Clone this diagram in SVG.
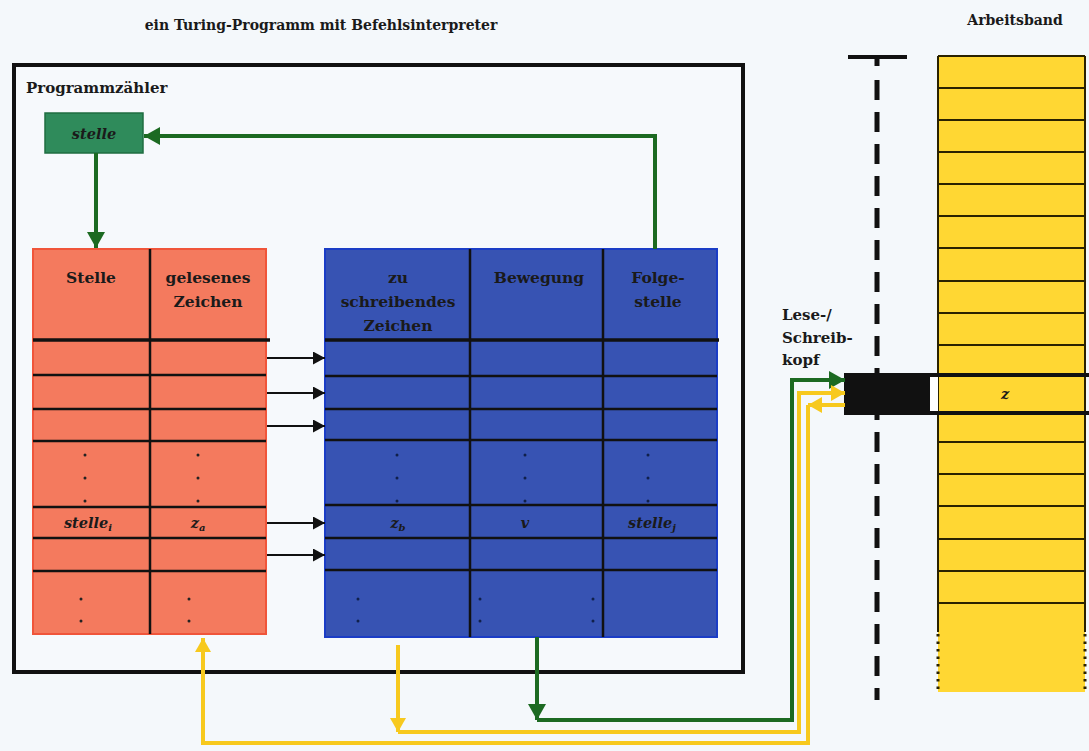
<svg xmlns="http://www.w3.org/2000/svg" width="1089" height="751" viewBox="0 0 1089 751">
  <defs>
    <style>
      .lbl { font-family: "DejaVu Serif", "Liberation Serif", serif; font-weight: bold; fill: #1a1a1a; }
      .hdr { font-size: 15.5px; text-anchor: middle; }
      .it { font-style: italic; text-anchor: middle; font-size: 14.5px; }
      .grid { stroke: #111; stroke-width: 2.5; fill: none; }
      .thick { stroke: #111; stroke-width: 3.5; fill: none; }
      .dot { fill: #222; }
      .bdot { fill: #10204a; }
      .green { stroke: #1c6a22; stroke-width: 4; fill: none; }
      .yellow { stroke: #f7c91e; stroke-width: 4; fill: none; }
      .black { stroke: #111; stroke-width: 2; fill: none; }
      .tape { stroke: #2a2200; stroke-width: 2; fill: none; }
      .dotted { stroke: #2a2200; stroke-width: 3; fill: none; stroke-dasharray: 2.5 5; }
    </style>
    <marker id="ahGreen" viewBox="0 0 16 18" markerUnits="userSpaceOnUse" markerWidth="16" markerHeight="18" refX="16" refY="9" orient="auto">
      <path d="M0,0 L16,9 L0,18 z" fill="#1c6a22"/>
    </marker>
    <marker id="ahYellow" viewBox="0 0 14 16" markerUnits="userSpaceOnUse" markerWidth="14" markerHeight="16" refX="14" refY="8" orient="auto">
      <path d="M0,0 L14,8 L0,16 z" fill="#f7c91e"/>
    </marker>
    <marker id="ahBlack" viewBox="0 0 12 13" markerUnits="userSpaceOnUse" markerWidth="12" markerHeight="13" refX="12" refY="6.5" orient="auto">
      <path d="M0,0 L12,6.5 L0,13 z" fill="#111"/>
    </marker>
  </defs>

  <rect x="0" y="0" width="1089" height="751" fill="#f4f8fb"/>

  <!-- headings -->
  <text class="lbl" x="321" y="30" font-size="14" text-anchor="middle">ein Turing-Programm mit Befehlsinterpreter</text>
  <text class="lbl" x="1015" y="25" font-size="14" text-anchor="middle">Arbeitsband</text>

  <!-- program frame -->
  <g id="programm">
    <rect x="14" y="65" width="729" height="607" fill="#f6f9fc" stroke="#111" stroke-width="4"/>
    <text class="lbl" x="26" y="93" font-size="15">Programmzähler</text>
  </g>

  <!-- program counter -->
  <g id="zaehler">
    <rect x="45" y="113" width="98" height="40" fill="#2f8b5b" stroke="#1f6d40" stroke-width="1.5"/>
    <text class="lbl it" x="94" y="139">stelle</text>
  </g>

  <!-- left table: state and read symbol -->
  <g id="tabelle-links">
    <rect x="33" y="249" width="233" height="385" fill="#f47a5e" stroke="#f0553a" stroke-width="2"/>
    <line class="grid" x1="150" y1="249" x2="150" y2="634"/>
    <line class="thick" x1="33" y1="340" x2="270" y2="340"/>
    <line class="grid" x1="33" y1="375" x2="266" y2="375"/>
    <line class="grid" x1="33" y1="409" x2="266" y2="409"/>
    <line class="grid" x1="33" y1="441" x2="266" y2="441"/>
    <line class="grid" x1="33" y1="507" x2="266" y2="507"/>
    <line class="grid" x1="33" y1="538" x2="266" y2="538"/>
    <line class="grid" x1="33" y1="571" x2="266" y2="571"/>
    <text class="lbl hdr" x="91" y="283">Stelle</text>
    <text class="lbl hdr" x="208" y="283">gelesenes</text>
    <text class="lbl hdr" x="208" y="307">Zeichen</text>
    <text class="lbl it" x="88" y="528">stelle<tspan font-size="10" dy="3">i</tspan></text>
    <text class="lbl it" x="198" y="528">z<tspan font-size="10" dy="3">a</tspan></text>
    <circle class="dot" cx="85" cy="455" r="1.5"/>
    <circle class="dot" cx="85" cy="478" r="1.5"/>
    <circle class="dot" cx="85" cy="501" r="1.5"/>
    <circle class="dot" cx="198" cy="455" r="1.5"/>
    <circle class="dot" cx="198" cy="478" r="1.5"/>
    <circle class="dot" cx="198" cy="501" r="1.5"/>
    <circle class="dot" cx="81" cy="599" r="1.5"/>
    <circle class="dot" cx="81" cy="621" r="1.5"/>
    <circle class="dot" cx="189" cy="599" r="1.5"/>
    <circle class="dot" cx="189" cy="621" r="1.5"/>
  </g>

  <!-- right table: write symbol, move, next state -->
  <g id="tabelle-rechts">
    <rect x="325" y="249" width="392" height="388" fill="#3753b3" stroke="#1b3dc6" stroke-width="2"/>
    <line class="grid" x1="470" y1="249" x2="470" y2="637"/>
    <line class="grid" x1="603" y1="249" x2="603" y2="637"/>
    <line class="thick" x1="325" y1="340" x2="719" y2="340"/>
    <line class="grid" x1="325" y1="376" x2="717" y2="376"/>
    <line class="grid" x1="325" y1="409" x2="717" y2="409"/>
    <line class="grid" x1="325" y1="440" x2="717" y2="440"/>
    <line class="grid" x1="325" y1="505" x2="717" y2="505"/>
    <line class="grid" x1="325" y1="538" x2="717" y2="538"/>
    <line class="grid" x1="325" y1="570" x2="717" y2="570"/>
    <text class="lbl hdr" x="398" y="283">zu</text>
    <text class="lbl hdr" x="398" y="307">schreibendes</text>
    <text class="lbl hdr" x="398" y="331">Zeichen</text>
    <text class="lbl hdr" x="539" y="283">Bewegung</text>
    <text class="lbl hdr" x="658" y="283">Folge-</text>
    <text class="lbl hdr" x="658" y="307">stelle</text>
    <text class="lbl it" x="398" y="528">z<tspan font-size="10" dy="3">b</tspan></text>
    <text class="lbl it" x="525" y="528">v</text>
    <text class="lbl it" x="652" y="528">stelle<tspan font-size="10" dy="3">j</tspan></text>
    <circle class="bdot" cx="397" cy="455" r="1.5"/>
    <circle class="bdot" cx="397" cy="478" r="1.5"/>
    <circle class="bdot" cx="397" cy="501" r="1.5"/>
    <circle class="bdot" cx="525" cy="455" r="1.5"/>
    <circle class="bdot" cx="525" cy="478" r="1.5"/>
    <circle class="bdot" cx="525" cy="501" r="1.5"/>
    <circle class="bdot" cx="648" cy="455" r="1.5"/>
    <circle class="bdot" cx="648" cy="478" r="1.5"/>
    <circle class="bdot" cx="648" cy="501" r="1.5"/>
    <circle class="bdot" cx="358" cy="599" r="1.5"/>
    <circle class="bdot" cx="358" cy="621" r="1.5"/>
    <circle class="bdot" cx="480" cy="599" r="1.5"/>
    <circle class="bdot" cx="480" cy="621" r="1.5"/>
    <circle class="bdot" cx="593" cy="599" r="1.5"/>
    <circle class="bdot" cx="593" cy="621" r="1.5"/>
  </g>

  <!-- tape -->
  <g id="arbeitsband">
    <rect x="938" y="56" width="147" height="636" fill="#ffd733"/>
    <line class="tape" x1="938" y1="56" x2="1085" y2="56"/>
    <line class="tape" x1="938" y1="56" x2="938" y2="632"/>
    <line class="tape" x1="1085" y1="56" x2="1085" y2="632"/>
    <line class="dotted" x1="938" y1="634" x2="938" y2="692"/>
    <line class="dotted" x1="1085" y1="634" x2="1085" y2="692"/>
    <path class="tape" d="M938,88 H1085 M938,120 H1085 M938,152 H1085 M938,184 H1085 M938,216 H1085 M938,248 H1085 M938,281 H1085 M938,313 H1085 M938,345 H1085 M938,442 H1085 M938,474 H1085 M938,506 H1085 M938,539 H1085 M938,571 H1085 M938,603 H1085"/>
    <text class="lbl it" x="1005" y="399">z</text>
  </g>

  <!-- head track -->
  <g id="spur">
    <line x1="848" y1="57" x2="907" y2="57" stroke="#111" stroke-width="4"/>
    <line x1="877" y1="57" x2="877" y2="700" stroke="#111" stroke-width="5" stroke-dasharray="9 14 20 12 20 12 20 12 20 12 20 12 20 12 20 12 20 12 20 12 20 12 20 12 20 12 20 12 20 12 20 12 20 12 20 12 20 12 20 12 20 12 20 12"/>
  </g>

  <!-- read/write head -->
  <g id="kopf">
    <rect x="846" y="375" width="260" height="38" fill="none" stroke="#111" stroke-width="4"/>
    <rect x="846" y="373" width="84" height="42" fill="#111"/>
    <rect x="930" y="377" width="8" height="34" fill="#ffffff"/>
    <text class="lbl" x="782" y="320" font-size="15">Lese-/</text>
    <text class="lbl" x="782" y="343" font-size="15">Schreib-</text>
    <text class="lbl" x="782" y="365" font-size="15">kopf</text>
  </g>

  <!-- connectors -->
  <g id="verbindungen">
    <!-- program counter -->
    <path class="green" d="M96,153 V248" marker-end="url(#ahGreen)"/>
    <path class="green" d="M655,249 V136 H144" marker-end="url(#ahGreen)"/>
    <!-- rows of the left table point into the right table -->
    <path class="black" d="M267,358 H325" marker-end="url(#ahBlack)"/>
    <path class="black" d="M267,393 H325" marker-end="url(#ahBlack)"/>
    <path class="black" d="M267,426 H325" marker-end="url(#ahBlack)"/>
    <path class="black" d="M267,523 H325" marker-end="url(#ahBlack)"/>
    <path class="black" d="M267,555 H325" marker-end="url(#ahBlack)"/>
    <!-- movement to head -->
    <path class="green" d="M537,637 V720" marker-end="url(#ahGreen)"/>
    <path class="green" d="M537,720 H792 V380 H845" marker-end="url(#ahGreen)"/>
    <!-- symbol to write -->
    <path class="yellow" d="M398,645 V732" marker-end="url(#ahYellow)"/>
    <path class="yellow" d="M398,732 H799 V393 H845" marker-end="url(#ahYellow)"/>
    <!-- symbol read -->
    <path class="yellow" d="M845,405 H808" marker-end="url(#ahYellow)"/>
    <path class="yellow" d="M808,405 V743 H203 V638" marker-end="url(#ahYellow)"/>
  </g>
</svg>
